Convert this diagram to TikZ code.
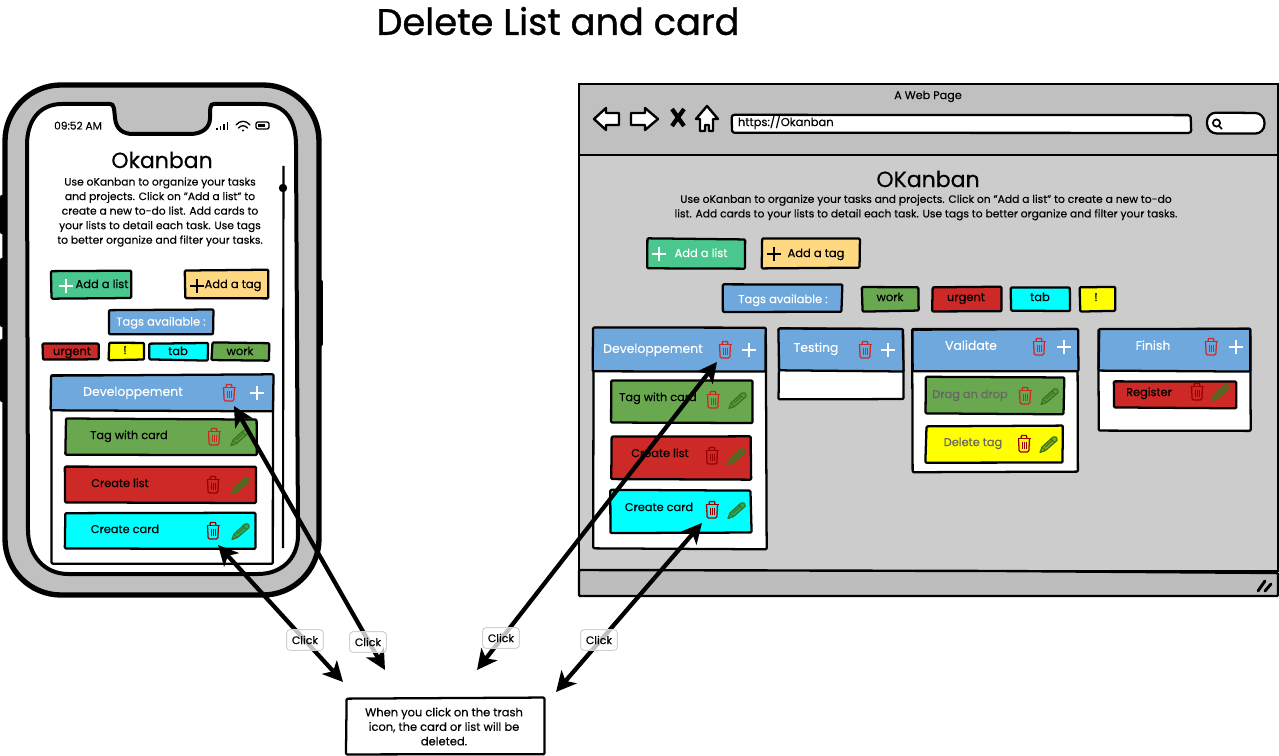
\documentclass[tikz,border=0pt]{standalone}
\usepackage{fontspec}
\setmainfont{Poppins}[FakeBold=0.25]
\newfontfamily\heavyfont{Poppins}[FakeBold=0.9]
\usetikzlibrary{arrows.meta}
\definecolor{gA}{HTML}{49C78E}\definecolor{oA}{HTML}{FFD982}\definecolor{bL}{HTML}{6FA8DC}
\definecolor{gN}{HTML}{6AA84F}\definecolor{rD}{HTML}{CC2927}\definecolor{cY}{HTML}{00FFFF}
\definecolor{yE}{HTML}{FFFF00}\definecolor{gB}{HTML}{C0C0C0}\definecolor{gC}{HTML}{CCCCCC}
\definecolor{gD}{HTML}{BDBDBD}\definecolor{tR}{HTML}{CC2927}\definecolor{tD}{HTML}{990000}
\definecolor{pG}{HTML}{38761D}\definecolor{gT}{HTML}{666666}
\pgfmathsetseed{7}
\tikzset{
 sk/.style={draw=black,line width=1.7pt,rounded corners=0.8pt,line join=round},
 tx/.style={inner sep=0pt,outer sep=0pt,align=center,font=\fontsize{8.6}{10.9}\selectfont},
 one/.style={text height=6.3pt,text depth=1.7pt},
 paratx/.style={tx,font=\fontsize{8.05}{10.9}\selectfont},
 smalltx/.style={tx,font=\fontsize{8.5}{9}\selectfont},
 headtx/.style={tx,font=\fontsize{9.3}{10.9}\selectfont,text=white,yshift=-.6pt},
 bigtx/.style={tx,font=\fontsize{16.5}{20}\selectfont},
 clicklab/.style={draw=black!18,line width=.7pt,fill=white,fill opacity=.75,text opacity=1,rounded corners=2.5pt,
   minimum width=27.5pt,minimum height=15.5pt,inner sep=0pt,font=\fontsize{8.2}{10}\selectfont},
 linkarrow/.style={line width=3.2pt,{Stealth[length=15pt,width=15pt,inset=4pt]}-{Stealth[length=15pt,width=15pt,inset=4pt]}},
}
\newcommand\bx[6]{%
 \pgfmathsetmacro\xa{#2+(rand*.7)}\pgfmathsetmacro\ya{#3+(rand*.7)}%
 \pgfmathsetmacro\xb{#4+(rand*.7)}\pgfmathsetmacro\yb{#3+(rand*.7)}%
 \pgfmathsetmacro\xc{#4+(rand*.7)}\pgfmathsetmacro\yc{#5+(rand*.7)}%
 \pgfmathsetmacro\xd{#2+(rand*.7)}\pgfmathsetmacro\yd{#5+(rand*.7)}%
 \draw[sk,#6] (\xa,\ya)--(\xb,\yb)--(\xc,\yc)--(\xd,\yd)--cycle;
 \coordinate (#1) at ({(#2+#4)/2},{(#3+#5)/2});}
\newcommand\tl[5][]{\node[tx,one,#1] (#2) at (#3,#4) {#5};}
\newcommand\ml[5][]{\node[tx,#1] (#2) at (#3,#4) {#5};}
\newcommand\trash[3]{\begin{scope}[shift={(#1,#2)},draw=#3,line width=.95pt,line join=round]
 \draw (-6.5,-5.5)--(6.5,-5.5);
 \draw (-3,-5.5)--(-2.5,-8.5)--(2.5,-8.5)--(3,-5.5);
 \draw[rounded corners=1pt] (-5.5,-5.5)--(-4.8,8)--(4.8,8)--(5.5,-5.5);
 \draw[line width=.6pt] (-2,-2.5)--(-2,5) (0,-2.5)--(0,5) (2,-2.5)--(2,5);
 \end{scope}}
\newcommand\penc[3][.3]{\begin{scope}[shift={(#2,#3)}]
 \draw[draw=pG,line width=.9pt,line join=round,fill=pG,fill opacity=#1] (-9,8.5)--(-7,3)--(4,-7)..controls (6,-8.5) and (8.5,-6.5) .. (8,-3.5)--(-3.5,6.5)--cycle;
 \draw[pG,line width=.7pt] (-7,3)--(-3.5,6.5) (2,-5)--(5.5,-1.5) (-4,3)--(4,-4);
 \end{scope}}
\newcommand\plusi[3]{\draw[#3,line width=1.4pt] (#1-7,#2)--(#1+7,#2) (#1,#2-7)--(#1,#2+7);}
\begin{document}
\begin{tikzpicture}[x=0.75pt,y=-0.75pt]
\useasboundingbox (0,0) rectangle (1279,756);
\node[inner sep=0pt,font=\fontsize{27.6}{30}\heavyfont] (title) at (558,21) {Delete List and card};
% ---------- phone
\draw[line width=3.2pt,line cap=round] (2,197)--(2,232) (2,260)--(2,325) (2,341)--(2,400) (321,282)--(321,344);
\draw[line width=4pt,fill=gB,rounded corners=42pt] (5,85) rectangle (319,595);
\draw[line width=3pt,fill=white] (62,104)--(110,104)
  ..controls (114,104) and (114,108) .. (115,118)
  ..controls (116,130) and (124,134) .. (133,134)
  --(190,134) ..controls (202,134) and (210,128) .. (210,118)
  ..controls (210,108) and (210,104) .. (214,104)
  --(262,104) ..controls (285,104) and (296,120) .. (296,145)
  --(298,535) ..controls (298,560) and (280,574) .. (258,574)
  --(68,574) ..controls (45,574) and (28,556) .. (28,530)
  --(27,145) ..controls (27,120) and (40,104) .. (62,104) --cycle;
\tl[font=\fontsize{8}{10}\selectfont]{ptime}{78}{126.5}{09:52 AM}
\draw[line width=.8pt] (217,130)--(217,128) (220.5,130)--(220.5,126.5) (224,130)--(224,124.5) (227.5,130)--(227.5,122.5);
\draw[line width=1pt,line cap=round] (236,125)..controls (240,120) and (246,120) .. (250,125) (238.5,128)..controls (241,125) and (245,125) .. (247.5,128);
\fill (243,130.5) circle (1.2);
\draw[line width=1pt,rounded corners=1.5pt] (256,122) rectangle (269,129);
\fill (258,124) rectangle (265,127);
\ml[bigtx]{ptitle}{162}{160}{Okanban}
\ml[paratx]{ptext}{160}{212}{Use oKanban to organize your tasks\\and projects. Click on "Add a list" to\\create a new to-do list. Add cards to\\your lists to detail each task. Use tags\\to better organize and filter your tasks.}
\draw[line width=1.6pt] (283.5,166)--(283,548);
\fill (283,188) circle (4.2);
\bx{paddl}{51}{271}{131}{298}{fill=gA}
\plusi{66}{286}{white}\tl{paddlt}{102}{285}{Add a list}
\bx{paddt}{185}{270}{268}{298}{fill=oA}
\plusi{197}{286}{black}\tl{paddtt}{233}{285}{Add a tag}
\bx{ptags}{109}{310}{213}{334}{fill=bL}
\tl[text=white]{ptagst}{161}{322.5}{Tags available :}
\bx{pt1}{43}{343}{99}{359}{fill=rD}\tl{pt1t}{72}{352}{urgent}
\bx{pt2}{109}{343}{144}{360}{fill=yE}\tl{pt2t}{125}{351}{!}
\bx{pt3}{149}{343}{208}{360}{fill=cY}\tl{pt3t}{178}{352}{tab}
\bx{pt4}{212}{343}{269}{360}{fill=gN}\tl{pt4t}{240}{352}{work}
\bx{plist}{51}{375}{273}{564}{fill=white}
\bx{plisth}{51}{375}{273}{411}{fill=bL}
\tl[headtx,one]{plistt}{133}{392}{Developpement}
\trash{229}{393}{tR}\plusi{257}{393}{white}
\bx{pc1}{66}{419}{257}{455}{fill=gN}\tl[smalltx,one]{pc1t}{129}{436}{Tag with card}
\trash{214}{437}{tR}\penc{240}{437}
\bx{pc2}{65}{466}{256}{503}{fill=rD}\tl[smalltx,one]{pc2t}{120}{484}{Create list}
\trash{213}{485}{tD}\penc[.6]{241}{485}
\bx{pc3}{65}{513}{256}{549}{fill=cY}\tl[smalltx,one]{pc3t}{125}{530}{Create card}
\trash{213}{531}{tD}\penc[.6]{241}{531}
% ---------- browser
\draw[line width=1.8pt,fill=gB] (579,84) rectangle (1278,155);
\draw[line width=1.8pt,fill=gC] (579,155) rectangle (1278,571);
\draw[line width=1.8pt,fill=gD,rounded corners=.8pt] (579,570)--(1000,571)--(1278,573)--(1278,596)--(579,596)--cycle;
\draw[line width=2.2pt,line cap=round] (1258,591)--(1265,581) (1265,591)--(1271,584);
\tl[font=\fontsize{8.4}{10}\selectfont]{wtitle}{928}{96}{A Web Page}
\draw[line width=1.8pt,fill=white,line join=round] (594,119)--(606,108)--(606,113)--(619,113)--(619,125)--(606,125)--(606,130)--cycle;
\draw[line width=1.8pt,fill=white,line join=round] (658,119)--(645,108)--(645,113)--(631,113)--(631,125)--(645,125)--(645,130)--cycle;
\draw[line width=3.2pt] (672,109)--(684,126) (684,109)--(672,126);
\draw[line width=1.8pt,fill=white,line join=round] (707,106)--(718,119)--(713,119)--(713,131)--(709,131)--(709,125)--(705,125)--(705,131)--(700,131)--(700,119)--(696,119)--cycle;
\bx{wurl}{732}{115}{1191}{133}{fill=white,rounded corners=2pt}
\node[tx,one,anchor=west,font=\fontsize{8.6}{10}\selectfont] (wurlt) at (738,123) {https://Okanban};
\bx{wsearch}{1207}{113}{1265}{134}{fill=white,rounded corners=7pt}
\draw[line width=1.3pt] (1216.5,123) circle (3.6) (1219,126)--(1222,129);
\ml[bigtx]{wtitlek}{928}{179}{OKanban}
\ml[paratx]{wtext}{926}{207.5}{Use oKanban to organize your tasks and projects. Click on "Add a list" to create a new to-do\\list. Add cards to your lists to detail each task. Use tags to better organize and filter your tasks.}
\bx{waddl}{647}{239}{745}{268}{fill=gA}
\plusi{659}{254}{white}\tl[text=white]{waddlt}{701}{254}{Add a list}
\bx{waddt}{762}{239}{860}{268}{fill=oA}
\plusi{774}{254}{black}\tl{waddtt}{816}{254}{Add a tag}
\bx{wtags}{723}{285}{842}{312}{fill=bL}
\tl[text=white]{wtagst}{783}{300}{Tags available :}
\bx{wt1}{862}{287}{919}{311}{fill=gN}\tl{wt1t}{890}{298}{work}
\bx{wt2}{932}{287}{1001}{311}{fill=rD}\tl{wt2t}{966}{298}{urgent}
\bx{wt3}{1011}{287}{1070}{311}{fill=cY}\tl{wt3t}{1040}{298}{tab}
\bx{wt4}{1080}{287}{1115}{311}{fill=yE}\tl{wt4t}{1096}{298}{!}
% dev list
\bx{wl1}{593}{328}{766}{549}{fill=white}
\bx{wl1h}{593}{328}{766}{371}{fill=bL}
\tl[headtx,one]{wl1t}{653}{349}{Developpement}
\trash{725}{350}{tR}\plusi{749}{350}{white}
\bx{wc1}{611}{380}{752}{423}{fill=gN}\tl[smalltx,one]{wc1t}{658}{398}{Tag with card}
\trash{713}{400}{tR}\penc{738}{400}
\bx{wc2}{611}{436}{751}{479}{fill=rD}\tl[smalltx,one]{wc2t}{660}{454}{Create list}
\trash{712}{456}{tD}\penc[.6]{737}{456}
\bx{wc3}{611}{490}{751}{533}{fill=cY}\tl[smalltx,one]{wc3t}{659}{508}{Create card}
\trash{712}{510}{tD}\penc[.6]{737}{510}
% testing
\bx{wl2}{779}{329}{903}{399}{fill=white}
\bx{wl2h}{779}{329}{903}{371}{fill=bL}
\tl[headtx,one]{wl2t}{816}{348}{Testing}
\trash{865}{350}{tR}\plusi{888}{350}{white}
% validate
\bx{wl3}{912}{329}{1078}{472}{fill=white}
\bx{wl3h}{912}{329}{1078}{371}{fill=bL}
\tl[headtx,one]{wl3t}{971}{346}{Validate}
\trash{1039}{347}{tR}\plusi{1064}{347}{white}
\bx{wc4}{926}{377}{1064}{414}{fill=gN}\tl[smalltx,one,text=gT]{wc4t}{970}{395}{Drag an drop}
\trash{1025}{396}{tR}\penc{1050}{396}
\bx{wc5}{926}{426}{1063}{462}{fill=yE}\tl[smalltx,one,text=gT]{wc5t}{973}{443}{Delete tag}
\trash{1024}{444}{tD}\penc[.6]{1049}{444}
% finish
\bx{wl4}{1099}{329}{1250}{431}{fill=white}
\bx{wl4h}{1099}{329}{1250}{371}{fill=bL}
\tl[headtx,one]{wl4t}{1153}{346}{Finish}
\trash{1211}{347}{tR}\plusi{1236}{347}{white}
\bx{wc6}{1114}{381}{1236}{408}{fill=rD}\tl[smalltx,one]{wc6t}{1149}{393}{Register}
\trash{1197}{392}{tD}\penc[.6]{1221}{392}
% note
\bx{note}{346}{698}{544}{754}{fill=white}
\ml{notet}{444}{726.5}{When you click on the trash\\icon, the card or list will be\\deleted.}
% arrows
\coordinate (a1a) at (218,545);\coordinate (a1b) at (343,682);
\coordinate (a2a) at (234,406);\coordinate (a2b) at (385,670);
\coordinate (a3a) at (717,362);\coordinate (a3b) at (477,670);
\coordinate (a4a) at (702,523);\coordinate (a4b) at (556,692);
\draw[linkarrow] (a1a)--(a1b);
\draw[linkarrow] (a2a)--(a2b);
\draw[linkarrow] (a3a)--(a3b);
\draw[linkarrow] (a4a)--(a4b);
\node[clicklab] (c1) at (305,640) {Click};
\node[clicklab] (c2) at (368,642) {Click};
\node[clicklab] (c3) at (501,638) {Click};
\node[clicklab] (c4) at (599,640) {Click};
\end{tikzpicture}
\end{document}
